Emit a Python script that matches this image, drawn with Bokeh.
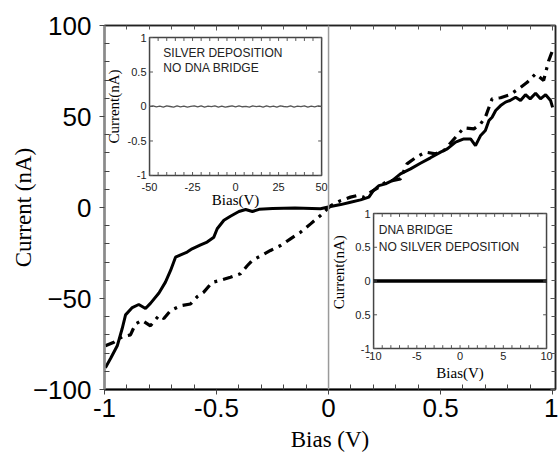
import math
from bokeh.plotting import figure
from bokeh.models import (Range1d, LinearAxis, FixedTicker, Span, CustomJSTickFormatter)
from bokeh.embed import file_html
from bokeh.resources import INLINE
from bokeh.core.properties import value

# ---------------- data ----------------
solid_bias = [-0.996, -0.973, -0.943, -0.921, -0.906, -0.876, -0.847, -0.817, -0.795, -0.757,
              -0.728, -0.705, -0.683, -0.660, -0.631, -0.609, -0.571, -0.542, -0.512, -0.497,
              -0.467, -0.438, -0.400, -0.370, -0.340, -0.310, -0.250, -0.150, -0.036, 0.009,
              0.054, 0.098, 0.143, 0.180, 0.200, 0.225, 0.254, 0.284, 0.321, 0.366,
              0.410, 0.455, 0.500, 0.530, 0.567, 0.604, 0.634, 0.656, 0.679, 0.700,
              0.716, 0.730, 0.746, 0.768, 0.790, 0.810, 0.835, 0.857, 0.879, 0.900,
              0.924, 0.946, 0.969, 0.991, 1.000]
solid_current = [-88, -83, -76, -66.5, -59, -55, -53.3, -55.5, -52.7, -47,
                 -41, -34.6, -27.3, -26, -24.5, -22.7, -20.5, -19, -16.3, -11.7,
                 -7, -4.8, -2.2, -1.1, -2.2, -1, -0.5, -0.3, -0.7, 0.5,
                 1.6, 2.9, 4.2, 5.7, 9.3, 12, 13, 14.8, 18.5, 21.2,
                 24.3, 27.3, 30.4, 32.2, 35.9, 37.7, 37.7, 34, 39.6, 42.3,
                 47.8, 49.6, 53.3, 56, 57.9, 58.8, 60.6, 58.8, 62, 59.7,
                 62.8, 59.7, 62, 58.8, 55]

dash_bias = [-0.996, -0.958, -0.921, -0.884, -0.862, -0.833, -0.795, -0.757, -0.735, -0.705,
             -0.660, -0.616, -0.586, -0.557, -0.520, -0.482, -0.438, -0.393, -0.363, -0.340,
             -0.300, -0.259, -0.214, -0.170, -0.125, -0.080, -0.036, 0.010, 0.054, 0.098,
             0.128, 0.158, 0.188, 0.225, 0.254, 0.284, 0.321, 0.350, 0.396, 0.433,
             0.478, 0.515, 0.567, 0.604, 0.649, 0.679, 0.700, 0.730, 0.768, 0.810,
             0.857, 0.887, 0.924, 0.960, 0.983, 0.999]
dash_current = [-76, -74, -71, -70, -64, -62, -65, -59.3, -61, -56.6,
                -54, -53, -49, -46.5, -41.2, -40, -38.3, -36.4, -32, -29,
                -26.4, -23.6, -20.9, -17.2, -13.6, -9, -4.4, 1, 3.8, 5.7,
                6.6, 5.7, 8.4, 11.2, 13.9, 14.8, 15.7, 24, 28, 30.4,
                29.5, 31.3, 38.6, 43.8, 43.2, 46, 49.6, 59.7, 60.3, 62,
                66, 68.8, 73.4, 69.8, 80.8, 86]

# main axis ticks
x_major = [-1, -0.5, 0, 0.5, 1]
x_minor = [-0.9, -0.8, -0.7, -0.6, -0.4, -0.3, -0.2, -0.1, 0.1, 0.2, 0.3, 0.4, 0.6, 0.7, 0.8, 0.9]
y_major = [-100, -50, 0, 50, 100]
y_minor = [-90, -80, -70, -60, -40, -30, -20, -10, 10, 20, 30, 40, 60, 70, 80, 90]

# inset 1: silver deposition, no DNA bridge
ins1_bias = [-50, -48, -46, -44, -42, -40, -38, -36, -34, -32, -30, -28, -26, -24, -22, -20,
             -18, -16, -14, -12, -10, -8, -6, -4, -2, 0, 2, 4, 6, 8, 10, 12, 14, 16, 18, 20,
             22, 24, 26, 28, 30, 32, 34, 36, 38, 40, 42, 44, 46, 48, 50]
ins1_current = [0.0, 0.01, -0.006, 0.004, -0.01, 0.008, 0.0, -0.008, 0.01, -0.004, 0.006, -0.01,
                0.002, 0.01, -0.006, 0.008, -0.01, 0.004, -0.002, 0.01, -0.008, 0.006, -0.01, 0.0,
                0.008, -0.006, 0.01, -0.004, 0.002, -0.01, 0.008, -0.002, 0.006, -0.008, 0.01, -0.006,
                0.004, -0.01, 0.008, 0.0, -0.006, 0.01, -0.008, 0.004, -0.002, 0.008, -0.01, 0.006,
                -0.004, 0.008, 0.0]
ins1_x_ticks = [-50, -25, 0, 25, 50]
ins1_x_labels = ["-50", "-25", "0", "25", "50"]
ins1_x_minor = [-45, -40, -35, -30, -20, -15, -10, -5, 5, 10, 15, 20, 30, 35, 40, 45]
ins1_y_ticks = [-1, -0.5, 0, 0.5, 1]
ins1_y_labels = ["-1", "-0.5", "0", "0.5", "1"]

# inset 2: DNA bridge, no silver deposition
ins2_bias = [-10, 10]
ins2_current = [0, 0]
ins2_x_ticks = [-10, -5, 0, 5, 10]
ins2_x_labels = ["-10", "-5", "0", "5", "10"]
ins2_x_minor = [-9, -8, -7, -6, -4, -3, -2, -1, 1, 2, 3, 4, 6, 7, 8, 9]
ins2_y_ticks = [-1, -0.5, 0, 0.5, 1]
ins2_y_labels = ["-1", "0.5", "0", "0.5", "1"]

SANS = "Liberation Sans"
SERIF = "Liberation Serif"

# ---------------- main figure ----------------
p = figure(width=558, height=454, output_backend="svg", toolbar_location=None,
           x_range=Range1d(-1, 1.013), y_range=Range1d(-100, 100),
           min_border_left=104, min_border_right=3, min_border_top=25, min_border_bottom=65,
           x_axis_type=None, y_axis_type=None)
p.grid.visible = False
p.outline_line_color = "#222222"
p.outline_line_width = 1.5
p.background_fill_color = "white"
p.border_fill_color = "white"

xa = LinearAxis(ticker=FixedTicker(ticks=x_major, minor_ticks=x_minor),
                formatter=CustomJSTickFormatter(code="return String(tick)"),
                axis_label="Bias (V)")
ya = LinearAxis(ticker=FixedTicker(ticks=y_major, minor_ticks=y_minor),
                axis_label="Current (nA)")
for ax in (xa, ya):
    ax.major_label_text_font = SANS
    ax.major_label_text_font_size = "26px"
    ax.major_label_text_color = "black"
    ax.axis_label_text_font = SERIF
    ax.axis_label_text_font_size = "23px"
    ax.axis_label_text_font_style = "normal"
    ax.axis_label_text_color = "black"
    ax.major_tick_out = 5
    ax.major_tick_in = 0
    ax.minor_tick_in = 5
    ax.minor_tick_out = 0
    ax.major_tick_line_color = "#444444"
    ax.minor_tick_line_color = "#444444"
xa.axis_line_color = "black"
xa.axis_line_width = 2
xa.major_label_standoff = 4
xa.axis_label_standoff = 7
ya.axis_line_color = "#8a8a8a"
ya.axis_line_width = 2.5
ya.major_label_standoff = 8
ya.axis_label_standoff = -6
p.add_layout(xa, "below")
p.add_layout(ya, "left")

ta = LinearAxis(ticker=FixedTicker(ticks=x_major, minor_ticks=x_minor),
                formatter=CustomJSTickFormatter(code="return ''"))
ra = LinearAxis(ticker=FixedTicker(ticks=y_major, minor_ticks=y_minor),
                formatter=CustomJSTickFormatter(code="return ''"))
for ax in (ta, ra):
    ax.major_tick_out = 0
    ax.major_tick_in = 5
    ax.minor_tick_in = 4
    ax.minor_tick_out = 0
    ax.major_label_standoff = 0
    ax.major_label_text_font_size = "1px"
    ax.axis_line_color = "#222222"
    ax.axis_line_width = 1.5
    ax.major_tick_line_color = "#555555"
    ax.minor_tick_line_color = "#555555"
p.add_layout(ta, "above")
p.add_layout(ra, "right")

p.add_layout(Span(location=0, dimension="height", line_color="#9a9a9a", line_width=1.5))

p.line(dash_bias, dash_current, line_color="black", line_width=3.2, line_dash="10 6 3 6")
p.line(solid_bias, solid_current, line_color="black", line_width=3)

# ---------------- inset 1 ----------------
i1 = p.subplot(x_source=Range1d(-50, 50), y_source=Range1d(-1, 1),
               x_target=Range1d(-0.799, -0.031), y_target=Range1d(17.6, 93.4))
i1.quad(left=[-50], right=[50], bottom=[-1], top=[1], fill_color=None,
        line_color="#444444", line_width=1.5)
i1.line(ins1_bias, ins1_current, line_color="#555555", line_width=1.3)
i1.segment(x0=ins1_x_ticks + ins1_x_minor, y0=[-1] * 21, x1=ins1_x_ticks + ins1_x_minor, y1=[-0.95] * 21,
           line_color="#555555", line_width=1)
i1.segment(x0=ins1_x_ticks + ins1_x_minor, y0=[1] * 21, x1=ins1_x_ticks + ins1_x_minor, y1=[0.95] * 21,
           line_color="#555555", line_width=1)
i1.segment(x0=[-50] * 5, y0=ins1_y_ticks, x1=[-48] * 5, y1=ins1_y_ticks, line_color="#555555", line_width=1)
i1.segment(x0=[50] * 5, y0=ins1_y_ticks, x1=[48] * 5, y1=ins1_y_ticks, line_color="#555555", line_width=1)
i1.text(x=ins1_x_ticks, y=[-1] * 5, text=ins1_x_labels, y_offset=12, text_align="center",
        text_baseline="middle", text_font=value(SANS), text_font_size="11px", text_color="#222222")
i1.text(x=[-50] * 5, y=ins1_y_ticks, text=ins1_y_labels, x_offset=-3, text_align="right",
        text_baseline="middle", text_font=value(SANS), text_font_size="11px", text_color="#222222")
i1.text(x=[0], y=[-1], text=["Bias(V)"], y_offset=25, text_align="center", text_baseline="middle",
        text_font=value(SERIF), text_font_size="15px", text_color="black")
i1.text(x=[-50], y=[0], text=["Current(nA)"], x_offset=-36, angle=math.pi / 2, text_align="center",
        text_baseline="middle", text_font=value(SERIF), text_font_size="15px", text_color="black")
i1.text(x=[-42], y=[0.78], text=["SILVER DEPOSITION"], text_align="left", text_baseline="middle",
        text_font=value(SANS), text_font_size="12px", text_color="#222222")
i1.text(x=[-42], y=[0.56], text=["NO DNA BRIDGE"], text_align="left", text_baseline="middle",
        text_font=value(SANS), text_font_size="12px", text_color="#222222")

# ---------------- inset 2 ----------------
i2 = p.subplot(x_source=Range1d(-10, 10), y_source=Range1d(-1, 1),
               x_target=Range1d(0.201, 0.973), y_target=Range1d(-77.5, -3.3))
i2.quad(left=[-10], right=[10], bottom=[-1], top=[1], fill_color=None,
        line_color="#444444", line_width=1.5)
i2.line(ins2_bias, ins2_current, line_color="black", line_width=3.5)
i2.segment(x0=ins2_x_ticks + ins2_x_minor, y0=[-1] * 21, x1=ins2_x_ticks + ins2_x_minor, y1=[-0.95] * 21,
           line_color="#555555", line_width=1)
i2.segment(x0=ins2_x_ticks + ins2_x_minor, y0=[1] * 21, x1=ins2_x_ticks + ins2_x_minor, y1=[0.95] * 21,
           line_color="#555555", line_width=1)
i2.segment(x0=[-10] * 5, y0=ins2_y_ticks, x1=[-9.6] * 5, y1=ins2_y_ticks, line_color="#555555", line_width=1)
i2.segment(x0=[10] * 5, y0=ins2_y_ticks, x1=[9.6] * 5, y1=ins2_y_ticks, line_color="#555555", line_width=1)
i2.text(x=ins2_x_ticks, y=[-1] * 5, text=ins2_x_labels, y_offset=7, text_align="center",
        text_baseline="middle", text_font=value(SANS), text_font_size="11px", text_color="#222222")
i2.text(x=[-10] * 5, y=ins2_y_ticks, text=ins2_y_labels, x_offset=-3, text_align="right",
        text_baseline="middle", text_font=value(SANS), text_font_size="11px", text_color="#222222")
i2.text(x=[0], y=[-1], text=["Bias(V)"], y_offset=24, text_align="center", text_baseline="middle",
        text_font=value(SERIF), text_font_size="15px", text_color="black")
i2.text(x=[-10], y=[0.13], text=["Current(nA)"], x_offset=-35, angle=math.pi / 2, text_align="center",
        text_baseline="middle", text_font=value(SERIF), text_font_size="15px", text_color="black")
i2.text(x=[-9.4], y=[0.75], text=["DNA BRIDGE"], text_align="left", text_baseline="middle",
        text_font=value(SANS), text_font_size="12px", text_color="#222222")
i2.text(x=[-9.4], y=[0.51], text=["NO SILVER DEPOSITION"], text_align="left", text_baseline="middle",
        text_font=value(SANS), text_font_size="12px", text_color="#222222")

open("out.html", "w").write(file_html(p, INLINE))
